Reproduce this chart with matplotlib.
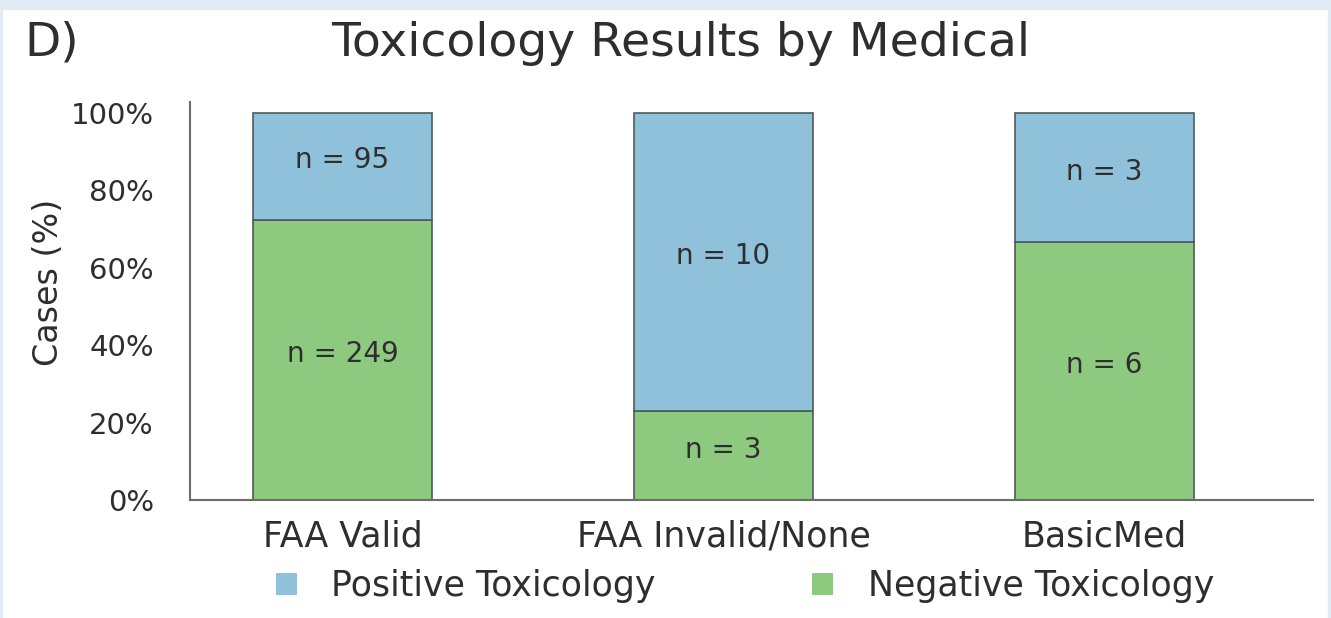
import numpy as np
import matplotlib
matplotlib.use('Agg')
import matplotlib.pyplot as plt
from matplotlib.patches import Patch, Rectangle

# данные
groups = ['FAA Valid', 'FAA Invalid/None', 'BasicMed']
n_negative = [249, 3, 6]
n_positive = [95, 10, 3]
yticks = [0, 20, 40, 60, 80, 100]
ytick_labels = ['0%', '20%', '40%', '60%', '80%', '100%']

blue = '#8fc1da'
green = '#8dc97f'
edge = '#4f5a5e'
text_col = '#2e2e2e'

neg = np.array(n_negative, dtype=float)
pos = np.array(n_positive, dtype=float)
total = neg + pos
neg_pct = neg / total * 100
pos_pct = pos / total * 100

plt.rcParams['font.family'] = ['DejaVu Sans']

fig = plt.figure(figsize=(13.31, 6.18), dpi=100, facecolor='white')

# светло-голубая рамка
fig.patches.append(Rectangle((0, 1 - 9 / 618), 1, 9 / 618, transform=fig.transFigure,
                             color='#e1ebf6', zorder=0))
fig.patches.append(Rectangle((0, 0), 2 / 1331, 1, transform=fig.transFigure,
                             color='#e1ebf6', zorder=0))
fig.patches.append(Rectangle((1 - 3 / 1331, 0), 3 / 1331, 1, transform=fig.transFigure,
                             color='#e1ebf6', zorder=0))

ax = fig.add_axes([190 / 1331, 1 - 500 / 618, (1313 - 190) / 1331, (500 - 102) / 618])
ax.set_facecolor('none')

x = np.arange(len(groups))
w = 0.47
ax.bar(x, neg_pct, width=w, color=green, edgecolor=edge, linewidth=1.2)
ax.bar(x, pos_pct, width=w, bottom=neg_pct, color=blue, edgecolor=edge, linewidth=1.2)

# подписи n = ...
for i in range(len(groups)):
    ax.text(x[i], neg_pct[i] / 2 + 1.5, f'n = {n_negative[i]}', ha='center', va='center',
            fontsize=20, color=text_col)
    ax.text(x[i], neg_pct[i] + pos_pct[i] / 2 + 1.5, f'n = {n_positive[i]}', ha='center',
            va='center', fontsize=20, color=text_col)

ax.set_xlim(-0.40, 2.547)
ax.set_ylim(0, 102.8)
ax.set_xticks(x)
ax.set_xticklabels(groups, fontsize=25, color=text_col)
ax.set_yticks(yticks)
ax.set_yticklabels(ytick_labels, fontsize=21, color=text_col)
ax.tick_params(axis='both', length=0)
ax.tick_params(axis='y', pad=26)
ax.tick_params(axis='x', pad=14)
for s in ['top', 'right']:
    ax.spines[s].set_visible(False)
for s in ['left', 'bottom']:
    ax.spines[s].set_color('#6d6d6d')
    ax.spines[s].set_linewidth(1.5)

fig.text(48 / 1331, 1 - 282 / 618, 'Cases (%)', rotation=90, ha='center', va='center',
         fontsize=24, color=text_col)
fig.text(681 / 1331, 1 - 43 / 618, 'Toxicology Results by Medical', ha='center', va='center',
         fontsize=34, color=text_col)
fig.text(24 / 1331, 1 - 43 / 618, 'D)', ha='left', va='center', fontsize=34, color=text_col)

handles = [Patch(facecolor=blue, edgecolor='none'), Patch(facecolor=green, edgecolor='none')]
fig.legend(handles, ['Positive Toxicology', 'Negative Toxicology'], loc='center',
           bbox_to_anchor=(745 / 1331, 1 - 586 / 618), ncol=2, frameon=False, fontsize=25,
           handlelength=0.6, handleheight=0.6, handletextpad=1.0, columnspacing=4.5,
           labelcolor=text_col)

fig.savefig('out.png', dpi=100, facecolor='white')
